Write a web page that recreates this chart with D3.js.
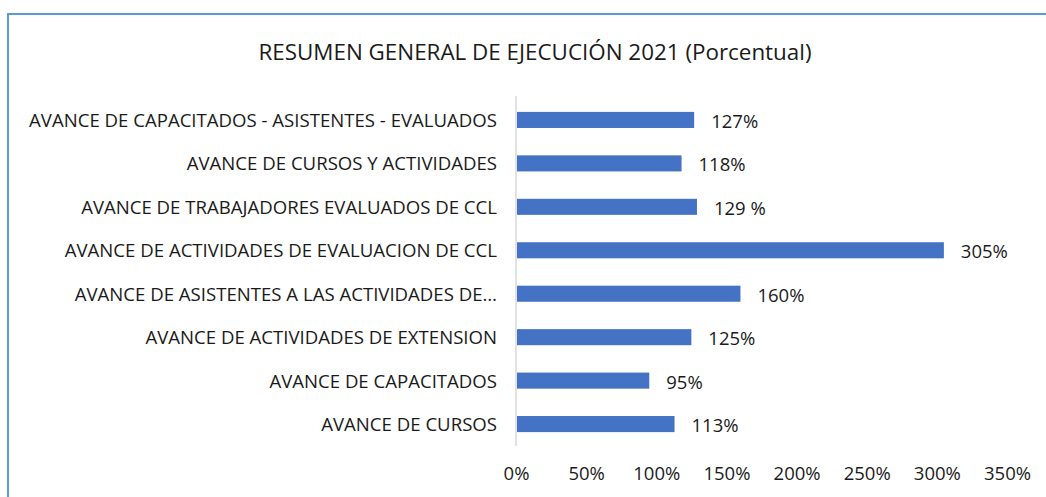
<!doctype html>
<html>
<head>
<meta charset="utf-8">
<title>Resumen general</title>
<script src="https://cdn.jsdelivr.net/npm/d3@7"></script>
<style>
  html, body { margin: 0; padding: 0; background: #fff; }
  svg { display: block; font-family: "Open Sans", "Liberation Sans", sans-serif; }
</style>
</head>
<body>
<div id="chart"></div>
<script>
// data
var categories = [
  "AVANCE DE CAPACITADOS - ASISTENTES - EVALUADOS",
  "AVANCE DE CURSOS Y ACTIVIDADES",
  "AVANCE DE TRABAJADORES EVALUADOS DE CCL",
  "AVANCE DE ACTIVIDADES DE EVALUACION DE CCL",
  "AVANCE DE ASISTENTES A LAS ACTIVIDADES DE…",
  "AVANCE DE ACTIVIDADES DE EXTENSION",
  "AVANCE DE CAPACITADOS",
  "AVANCE DE CURSOS"
]
var values = [127, 118, 129, 305, 160, 125, 95, 113]
var valueLabels = ["127%", "118%", "129 %", "305%", "160%", "125%", "95%", "113%"]
var xTicks = [0, 50, 100, 150, 200, 250, 300, 350]

var width = 1046, height = 497
var fontFam = "Open Sans, Liberation Sans, sans-serif"

var svg = d3.select("#chart").append("svg")
  .attr("width", width)
  .attr("height", height)

// frame (only left and top edges visible)
svg.append("rect")
  .attr("x", 8).attr("y", 14)
  .attr("width", width + 20).attr("height", height + 20)
  .attr("fill", "none")
  .attr("stroke", "#5b9bd5")
  .attr("stroke-width", 2)

svg.append("text")
  .attr("x", 535).attr("y", 60)
  .attr("text-anchor", "middle")
  .attr("font-size", 22.4)
  .attr("fill", "#1a1a1a")
  .text("RESUMEN GENERAL DE EJECUCIÓN 2021 (Porcentual)")

var x = d3.scaleLinear().domain([0, 350]).range([516, 1007])
var y = d3.scaleBand().domain(categories).range([98, 446]).paddingInner(0.63).paddingOuter(0.32)

// vertical axis line
svg.append("line")
  .attr("x1", x(0)).attr("x2", x(0))
  .attr("y1", 96).attr("y2", 446)
  .attr("stroke", "#d9d9d9")
  .attr("stroke-width", 1.5)

svg.selectAll("rect.bar")
  .data(values)
  .join("rect")
  .attr("class", "bar")
  .attr("x", x(0) + 1)
  .attr("y", function (d, i) { return y(categories[i]) })
  .attr("width", function (d) { return x(d) - x(0) - 1 })
  .attr("height", y.bandwidth())
  .attr("fill", "#4472c4")

svg.selectAll("text.val")
  .data(values)
  .join("text")
  .attr("class", "val")
  .attr("x", function (d) { return x(d) + 17 })
  .attr("y", function (d, i) { return y(categories[i]) + y.bandwidth() / 2 + 8 })
  .attr("font-size", 18.5)
  .attr("fill", "#1a1a1a")
  .text(function (d, i) { return valueLabels[i] })

// category labels
var yAxis = svg.append("g")
  .attr("transform", "translate(" + (x(0) - 19) + ",1)")
  .call(d3.axisLeft(y).tickSize(0).tickPadding(0))
yAxis.select(".domain").remove()
yAxis.selectAll("text")
  .attr("font-size", 18.6)
  .attr("font-family", fontFam)
  .attr("fill", "#1a1a1a")

// bottom ticks
var xAxis = svg.append("g")
  .attr("transform", "translate(0,467)")
  .call(d3.axisBottom(x).tickValues(xTicks).tickSize(0).tickPadding(0)
    .tickFormat(function (d) { return d + "%" }))
xAxis.select(".domain").remove()
xAxis.selectAll("text")
  .attr("font-size", 18.5)
  .attr("font-family", fontFam)
  .attr("fill", "#1a1a1a")
</script>
</body>
</html>
